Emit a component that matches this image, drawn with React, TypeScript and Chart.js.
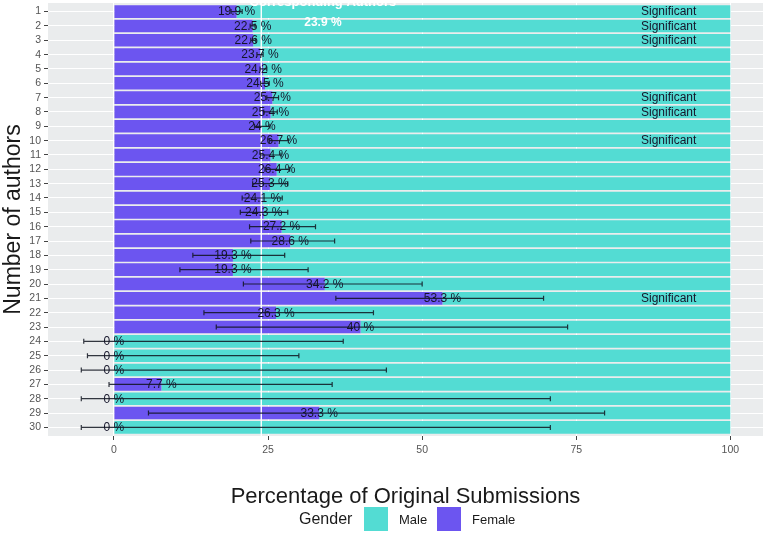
import React, { useEffect, useRef } from 'react';
import { Chart, registerables } from 'chart.js';
Chart.register(...registerables);

// ---- data ----
const authors = [1, 2, 3, 4, 5, 6, 7, 8, 9, 10, 11, 12, 13, 14, 15, 16, 17, 18, 19, 20, 21, 22, 23, 24, 25, 26, 27, 28, 29, 30];
const femalePct = [19.9, 22.5, 22.6, 23.7, 24.2, 24.5, 25.7, 25.4, 24, 26.7, 25.4, 26.4, 25.3, 24.1, 24.3, 27.2, 28.6, 19.3, 19.3, 34.2, 53.3, 26.3, 40, 0, 0, 0, 7.7, 0, 33.3, 0];
const ciLow = [19.0, 22.1, 22.2, 23.2, 23.7, 23.8, 24.8, 24.3, 22.8, 25.2, 23.8, 24.5, 22.5, 20.8, 20.5, 22.0, 22.2, 12.8, 10.7, 21.0, 36.0, 14.6, 16.6, -4.9, -4.3, -5.3, -0.8, -5.3, 5.6, -5.3];
const ciHigh = [20.8, 22.9, 23.0, 24.2, 24.8, 25.2, 26.7, 26.5, 25.3, 28.3, 27.1, 28.5, 28.2, 27.3, 28.2, 32.7, 35.8, 27.7, 31.5, 50.0, 69.7, 42.1, 73.6, 37.2, 30.0, 44.2, 35.4, 70.8, 79.6, 70.8];
const significantRows = [1, 2, 3, 7, 8, 10, 21];
const xTicks = [0, 25, 50, 75, 100];
const refValue = 23.9;
const refLabel = 'Corresponding Authors';
const legendTitle = 'Gender';
const legendItems = ['Male', 'Female'];
const xTitle = 'Percentage of Original Submissions';
const yTitle = 'Number of authors';

const PURPLE = '#6c55f0';
const CYAN = '#53dcd3';
const FONT = '"Liberation Sans", Arial, sans-serif';

export default function App() {
  const ref = useRef<HTMLCanvasElement | null>(null);
  useEffect(() => {
    if (!ref.current) return;
    const maleVals = femalePct.map((v) => 100 - v);
    const annot = {
      id: 'annot',
      beforeDraw(chart: any) {
        const { ctx, chartArea: a } = chart;
        ctx.save();
        ctx.fillStyle = '#eaeced';
        ctx.fillRect(a.left, a.top, a.right - a.left, a.bottom - a.top);
        ctx.restore();
      },
      afterDatasetsDraw(chart: any) {
        const { ctx, chartArea: a } = chart;
        const xs = chart.scales.x;
        const ys = chart.scales.y;
        ctx.save();
        // reference line
        const rx = xs.getPixelForValue(refValue);
        ctx.strokeStyle = '#ffffff';
        ctx.lineWidth = 1.4;
        ctx.beginPath();
        ctx.moveTo(rx, a.top);
        ctx.lineTo(rx, a.bottom);
        ctx.stroke();
        // error bars
        ctx.strokeStyle = 'rgba(15,20,30,0.85)';
        ctx.lineWidth = 1.2;
        authors.forEach((au, i) => {
          const y = ys.getPixelForValue(au);
          const x1 = xs.getPixelForValue(ciLow[i]);
          const x2 = xs.getPixelForValue(ciHigh[i]);
          ctx.beginPath();
          ctx.moveTo(x1, y);
          ctx.lineTo(x2, y);
          ctx.moveTo(x1, y - 2.5);
          ctx.lineTo(x1, y + 2.5);
          ctx.moveTo(x2, y - 2.5);
          ctx.lineTo(x2, y + 2.5);
          ctx.stroke();
        });
        // value labels
        ctx.fillStyle = '#15152a';
        ctx.font = `12px ${FONT}`;
        ctx.textAlign = 'center';
        ctx.textBaseline = 'middle';
        authors.forEach((au, i) => {
          const y = ys.getPixelForValue(au);
          const x = xs.getPixelForValue(femalePct[i]);
          ctx.fillText(`${femalePct[i]} %`, x, y + 0.5);
        });
        // significant
        significantRows.forEach((r) => {
          const y = ys.getPixelForValue(r);
          ctx.fillText('Significant', xs.getPixelForValue(90), y + 0.5);
        });
        // reference text
        const tx = xs.getPixelForValue(refValue + 10);
        ctx.fillStyle = '#ffffff';
        ctx.textBaseline = 'alphabetic';
        ctx.font = `bold 13px ${FONT}`;
        ctx.fillText(refLabel, tx, 6);
        ctx.font = `bold 12px ${FONT}`;
        ctx.fillText(`${refValue} %`, tx, 26);
        ctx.restore();
      },
      afterDraw(chart: any) {
        const { ctx, chartArea: a } = chart;
        ctx.save();
        ctx.fillStyle = '#1a1a1a';
        ctx.textAlign = 'center';
        ctx.textBaseline = 'middle';
        ctx.font = `22px ${FONT}`;
        ctx.fillText(xTitle, (a.left + a.right) / 2, 497);
        ctx.save();
        ctx.translate(14, (a.top + a.bottom) / 2);
        ctx.rotate(-Math.PI / 2);
        ctx.font = `23px ${FONT}`;
        ctx.fillText(yTitle, 0, 0);
        ctx.restore();
        // legend
        ctx.textAlign = 'left';
        ctx.font = `16px ${FONT}`;
        ctx.fillText(legendTitle, 299, 520);
        ctx.font = `13px ${FONT}`;
        const sw = [364, 437];
        const cols = [CYAN, PURPLE];
        legendItems.forEach((t, i) => {
          ctx.fillStyle = cols[i];
          ctx.fillRect(sw[i], 507, 24, 24);
          ctx.fillStyle = '#1a1a1a';
          ctx.fillText(t, sw[i] + 35, 520);
        });
        ctx.restore();
      },
    };
    const chart = new Chart(ref.current, {
      type: 'bar',
      data: {
        datasets: [
          {
            label: 'Female',
            data: authors.map((au, i) => ({ x: femalePct[i], y: au })),
            backgroundColor: PURPLE,
            barPercentage: 0.88,
            categoryPercentage: 1,
          },
          {
            label: 'Male',
            data: authors.map((au, i) => ({ x: maleVals[i], y: au })),
            backgroundColor: CYAN,
            barPercentage: 0.88,
            categoryPercentage: 1,
          },
        ],
      },
      options: {
        indexAxis: 'y',
        animation: false,
        responsive: false,
        devicePixelRatio: 1,
        layout: { padding: { left: 0, top: 3, right: 3, bottom: 0 } },
        plugins: { legend: { display: false }, tooltip: { enabled: false } },
        scales: {
          x: {
            type: 'linear',
            stacked: true,
            offset: false,
            min: -10.7,
            max: 105.3,
            afterBuildTicks: (s: any) => {
              s.ticks = xTicks.map((v) => ({ value: v }));
            },
            afterFit: (s: any) => {
              s.height = 99;
              s.paddingLeft = 0;
              s.paddingRight = 0;
            },
            grid: { color: '#ffffff', lineWidth: 1, tickColor: '#444', tickLength: 4, offset: false },
            border: { display: false },
            ticks: { font: { family: FONT, size: 10.5 }, color: '#555', padding: 4, autoSkip: false, maxRotation: 0 },
          },
          y: {
            type: 'linear',
            stacked: true,
            reverse: true,
            offset: false,
            min: 0.4,
            max: 30.6,
            afterBuildTicks: (s: any) => {
              s.ticks = authors.map((v) => ({ value: v }));
            },
            afterFit: (s: any) => {
              s.width = 48;
              s.paddingTop = 0;
              s.paddingBottom = 0;
            },
            grid: { color: '#ffffff', lineWidth: 1, tickColor: '#444', tickLength: 4, offset: false },
            border: { display: false },
            ticks: { font: { family: FONT, size: 10.5 }, color: '#555', padding: 3, autoSkip: false },
          },
        },
      },
      plugins: [annot],
    } as any);
    return () => chart.destroy();
  }, []);
  return (
    <div style={{ position: 'fixed', left: 0, top: 0, width: 766, height: 535, background: '#fff' }}>
      <canvas ref={ref} width={766} height={535} />
    </div>
  );
}
